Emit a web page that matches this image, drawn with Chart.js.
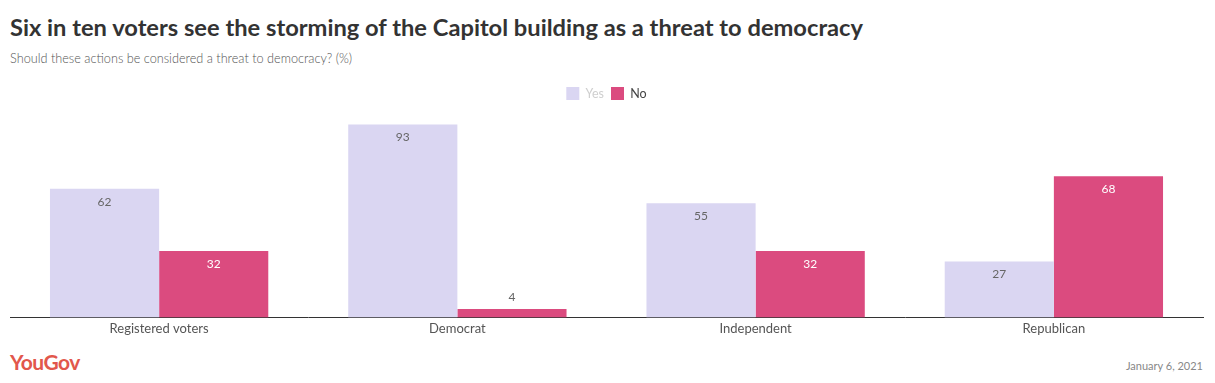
<!DOCTYPE html>
<html>
<head>
<meta charset="utf-8">
<script src="https://cdn.jsdelivr.net/npm/chart.js@4"></script>
<style>
  html, body { margin:0; padding:0; background:#fff; width:1215px; height:383px; overflow:hidden; font-family: Lato, "Open Sans", sans-serif; }
  #title { position:absolute; left:10px; top:13px; font-size:23.7px; font-weight:700; color:#333; white-space:nowrap; }
  #subtitle { position:absolute; left:10px; top:50px; font-size:12.7px; font-weight:300; color:#555; white-space:nowrap; }
  #logo { position:absolute; left:10px; top:349px; font-size:21px; font-weight:700; color:#e2574c; letter-spacing:-0.5px; }
  #date { position:absolute; right:12px; top:359px; font-size:11px; color:#888; }
  #wrap { position:absolute; left:0; top:80px; width:1215px; height:261px; }
</style>
</head>
<body>
<div id="title">Six in ten voters see the storming of the Capitol building as a threat to democracy</div>
<div id="subtitle">Should these actions be considered a threat to democracy? (%)</div>
<div id="wrap"><canvas id="c"></canvas></div>
<div id="logo">YouGov</div>
<div id="date">January 6, 2021</div>
<script>
const categories = ["Registered voters", "Democrat", "Independent", "Republican"];
const yesValues = [62, 93, 55, 27];
const noValues = [32, 4, 32, 68];
const seriesNames = ["Yes", "No"];

const valueLabels = {
  id: 'valueLabels',
  afterDatasetsDraw(chart) {
    const ctx = chart.ctx;
    ctx.save();
    ctx.font = '12px Lato, "Open Sans", sans-serif';
    ctx.textAlign = 'center';
    ctx.textBaseline = 'middle';
    chart.data.datasets.forEach((ds, di) => {
      const meta = chart.getDatasetMeta(di);
      meta.data.forEach((bar, i) => {
        const v = ds.data[i];
        const h = bar.base - bar.y;
        let y, color;
        if (h > 26) {
          y = bar.y + 13;
          color = di === 0 ? '#666' : '#fff';
        } else {
          y = bar.y - 12;
          color = '#666';
        }
        ctx.fillStyle = color;
        ctx.fillText(String(v), bar.x, y);
      });
    });
    ctx.restore();
  }
};

new Chart(document.getElementById('c'), {
  type: 'bar',
  data: {
    labels: categories,
    datasets: [
      { label: seriesNames[0], data: yesValues, backgroundColor: '#dad6f2', borderWidth: 0 },
      { label: seriesNames[1], data: noValues, backgroundColor: '#db4b7f', borderWidth: 0 }
    ]
  },
  options: {
    responsive: true,
    maintainAspectRatio: false,
    animation: false,
    layout: { padding: { left: 10, right: 12, top: 0, bottom: 0 } },
    datasets: { bar: { categoryPercentage: 0.732, barPercentage: 1.0 } },
    plugins: {
      legend: {
        position: 'top',
        align: 'center',
        labels: {
          boxWidth: 13,
          boxHeight: 13,
          padding: 7,
          font: { family: 'Lato, "Open Sans", sans-serif', size: 12.5 },
          generateLabels(chart) {
            return chart.data.datasets.map((ds, i) => ({
              text: ds.label,
              fillStyle: ds.backgroundColor,
              strokeStyle: ds.backgroundColor,
              lineWidth: 0,
              fontColor: i === 0 ? '#cfcfcf' : '#444',
              datasetIndex: i,
              hidden: false
            }));
          }
        }
      },
      tooltip: { enabled: false },
      title: { display: false }
    },
    scales: {
      x: {
        grid: { display: false, drawTicks: false },
        border: { display: true, color: '#333', width: 1 },
        ticks: { color: '#555', font: { family: 'Lato, "Open Sans", sans-serif', size: 13 }, padding: 4 }
      },
      y: {
        display: false,
        min: 0,
        max: 100
      }
    }
  },
  plugins: [valueLabels]
});
</script>
</body>
</html>
